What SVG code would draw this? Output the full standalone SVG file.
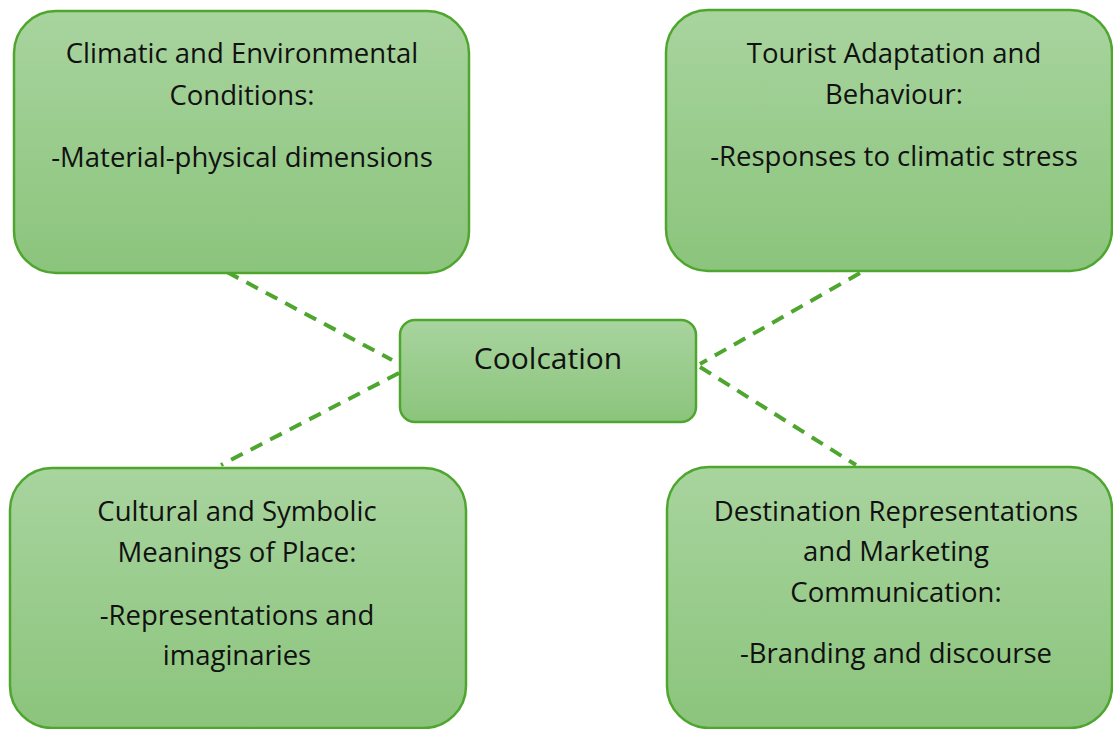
<svg xmlns="http://www.w3.org/2000/svg" width="1113" height="729" viewBox="0 0 1113 729">
  <defs>
    <linearGradient id="boxFill" x1="0" y1="0" x2="0" y2="1">
      <stop offset="0" stop-color="#a8d49e"/>
      <stop offset="1" stop-color="#8bc47c"/>
    </linearGradient>
    <style>
      .box { fill: url(#boxFill); stroke: #4fa62f; stroke-width: 2.5; }
      .link { stroke: #4fa62f; stroke-width: 4; stroke-dasharray: 13 9; fill: none; }
      .lbl { font-family: "Open Sans", "Liberation Sans", sans-serif; font-size: 27.5px; fill: #111; text-anchor: middle; }
      .hub { font-size: 30px; }
    </style>
  </defs>
  <rect width="1113" height="729" fill="#ffffff"/>

  <!-- dashed spokes from the hub to each theme -->
  <g id="connectors">
    <line class="link" x1="227" y1="272" x2="392" y2="360"/>
    <line class="link" x1="399" y1="373" x2="221" y2="465"/>
    <line class="link" x1="860" y1="273" x2="700" y2="364"/>
    <line class="link" x1="700" y1="367" x2="856" y2="465"/>
  </g>

  <g id="climatic">
    <rect class="box" x="14" y="11" width="455" height="262" rx="42"/>
    <text class="lbl" x="242" y="63">Climatic and Environmental</text>
    <text class="lbl" x="242" y="105">Conditions:</text>
    <text class="lbl" x="242" y="167">-Material-physical dimensions</text>
  </g>

  <g id="tourist">
    <rect class="box" x="666" y="10" width="446" height="261" rx="42"/>
    <text class="lbl" x="894" y="63">Tourist Adaptation and</text>
    <text class="lbl" x="894" y="104">Behaviour:</text>
    <text class="lbl" x="894" y="166">-Responses to climatic stress</text>
  </g>

  <g id="hub">
    <rect class="box" x="400" y="320" width="296" height="102" rx="15"/>
    <text class="lbl hub" x="548" y="369">Coolcation</text>
  </g>

  <g id="cultural">
    <rect class="box" x="10" y="468" width="456" height="260" rx="42"/>
    <text class="lbl" x="237" y="521">Cultural and Symbolic</text>
    <text class="lbl" x="237" y="562">Meanings of Place:</text>
    <text class="lbl" x="237" y="625">-Representations and</text>
    <text class="lbl" x="237" y="665">imaginaries</text>
  </g>

  <g id="destination">
    <rect class="box" x="667" y="467" width="445" height="261" rx="42"/>
    <text class="lbl" x="896" y="521">Destination Representations</text>
    <text class="lbl" x="896" y="561">and Marketing</text>
    <text class="lbl" x="896" y="602">Communication:</text>
    <text class="lbl" x="896" y="663">-Branding and discourse</text>
  </g>
</svg>
